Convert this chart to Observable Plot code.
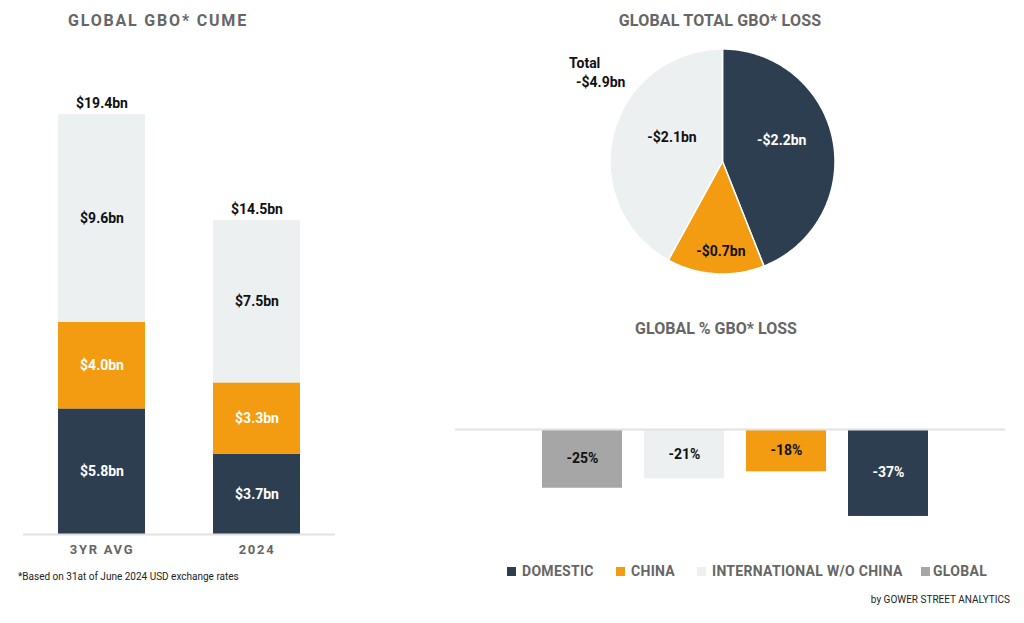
<!DOCTYPE html>
<html>
<head>
<meta charset="utf-8">
<script src="https://cdn.jsdelivr.net/npm/d3@7"></script>
<script src="https://cdn.jsdelivr.net/npm/@observablehq/plot@0.6"></script>
<style>
  html, body { margin: 0; padding: 0; background: #fff; }
  #root { position: relative; width: 1024px; height: 623px; overflow: hidden; font-family: Roboto, "Noto Sans", sans-serif; }
  .abs { position: absolute; }
  .title { font-weight: bold; color: #666; text-align: center; line-height: 20px; white-space: nowrap; }
  .cume g[aria-label="x-axis tick label"] text { letter-spacing: 1.7px; }
  .legend-item { position: absolute; top: 562px; display: flex; align-items: center; font-weight: bold; font-size: 14px; color: #666; letter-spacing: 0.3px; white-space: nowrap; line-height: 18px; }
  .legend-item span.sw { display: inline-block; width: 9px; height: 9px; margin-right: 6px; }
</style>
</head>
<body>
<div id="root"></div>
<script>
// ---------- DATA ----------
const periods = ["3YR AVG", "2024"];
const segments = ["DOMESTIC", "CHINA", "INTERNATIONAL W/O CHINA"];
const domesticCume = [5.8, 3.7];
const chinaCume = [4.0, 3.3];
const intlCume = [9.6, 7.5];
const totalCume = [19.4, 14.5];

const lossSegments = ["DOMESTIC", "CHINA", "INTERNATIONAL W/O CHINA"];
const lossValues = [-2.2, -0.7, -2.1];
const totalLoss = -4.9;

const pctCategories = ["GLOBAL", "INTERNATIONAL W/O CHINA", "CHINA", "DOMESTIC"];
const pctValues = [-25, -21, -18, -37];

const legendCategories = ["DOMESTIC", "CHINA", "INTERNATIONAL W/O CHINA", "GLOBAL"];
const legendColors = ["#2d3e50", "#f39c12", "#ecf0f1", "#a6a6a6"];

// ---------- HELPERS ----------
const root = document.getElementById("root");
const color = {domain: legendCategories, range: legendColors};
const FONT = "Roboto, 'Noto Sans', sans-serif";
function place(el, left, top, cls) {
  el.style.position = "absolute";
  el.style.left = left + "px";
  el.style.top = top + "px";
  if (cls) el.classList.add(cls);
  root.appendChild(el);
  return el;
}
function addText(txt, left, top, width, style, cls) {
  const d = document.createElement("div");
  d.className = "abs" + (cls ? " " + cls : "");
  d.textContent = txt;
  d.style.left = left + "px";
  d.style.top = top + "px";
  if (width != null) d.style.width = width + "px";
  Object.assign(d.style, style || {});
  root.appendChild(d);
  return d;
}
const fmtBn = v => "$" + v.toFixed(1) + "bn";
const fmtLoss = v => (v < 0 ? "-" : "") + "$" + Math.abs(v).toFixed(1) + "bn";
const fmtPct = v => v + "%";

// ---------- TITLES ----------
addText("GLOBAL GBO* CUME", 38, 11, 240, {fontSize: "16px", letterSpacing: "1.8px"}, "title");
addText("GLOBAL TOTAL GBO* LOSS", 580, 11, 280, {fontSize: "16px", letterSpacing: "0.2px"}, "title");
addText("GLOBAL % GBO* LOSS", 576, 319, 280, {fontSize: "16px", letterSpacing: "0px"}, "title");

// ---------- LEFT: STACKED BARS ----------
const cumeData = periods.flatMap((p, i) => [
  {period: p, seg: segments[0], v: domesticCume[i]},
  {period: p, seg: segments[1], v: chinaCume[i]},
  {period: p, seg: segments[2], v: intlCume[i]}
]);
const whiteCume = ["DOMESTIC", "CHINA"];
const cume = Plot.plot({
  width: 340, height: 510,
  marginLeft: 23, marginRight: 5, marginTop: 41, marginBottom: 36,
  style: {fontFamily: FONT, background: "transparent"},
  x: {domain: periods, range: [57, 300], paddingInner: 0.44, paddingOuter: 0, label: null},
  y: {domain: [0, 20], axis: null},
  color,
  marks: [
    Plot.barY(cumeData, {x: "period", y: "v", fill: "seg", order: segments}),
    Plot.ruleY([0], {stroke: "#e2e2e2", strokeWidth: 2}),
    Plot.text(cumeData, Plot.stackY({x: "period", y: "v", z: "seg", order: segments,
      text: d => whiteCume.includes(d.seg) ? fmtBn(d.v) : null, fill: "white", fontWeight: "bold", fontSize: 14})),
    Plot.text(cumeData, Plot.stackY({x: "period", y: "v", z: "seg", order: segments,
      text: d => whiteCume.includes(d.seg) ? null : fmtBn(d.v), fill: "#111", fontWeight: "bold", fontSize: 14})),
    Plot.text(periods, {x: d => d, y: (d, i) => totalCume[i], text: (d, i) => fmtBn(totalCume[i]),
      dy: -11, fill: "#111", fontWeight: "bold", fontSize: 14}),
    Plot.axisX({tickSize: 0, tickPadding: 10, fontSize: 13, fontWeight: "bold", fill: "#666", label: null})
  ]
});
place(cume, 0, 60, "cume");

addText("*Based on 31at of June 2024 USD exchange rates", 18, 570, null, {fontSize: "10px", color: "#222", whiteSpace: "nowrap", lineHeight: "14px"});

// ---------- PIE ----------
const pieArcs = d3.pie().sort(null).value(d => Math.abs(d))(lossValues);
const pt = (a, r) => [Math.sin(a) * r, -Math.cos(a) * r];
const pieFeatures = pieArcs.map((a, i) => {
  const coords = [[0, 0]];
  const n = Math.max(2, Math.ceil((a.endAngle - a.startAngle) / (Math.PI / 180)));
  for (let k = 0; k <= n; k++) coords.push(pt(a.startAngle + (a.endAngle - a.startAngle) * k / n, 1));
  coords.push([0, 0]);
  return {type: "Feature", properties: {cat: lossSegments[i]}, geometry: {type: "Polygon", coordinates: [coords]}};
});
const pieLabels = pieArcs.map((a, i) => {
  const mid = (a.startAngle + a.endAngle) / 2;
  const small = Math.abs(lossValues[i]) < 1;
  const [x, y] = pt(mid, small ? 0.8 : 0.5);
  return {x, y, cat: lossSegments[i], text: fmtLoss(lossValues[i]), small};
});
const pie = Plot.plot({
  width: 330, height: 260,
  marginLeft: 49.5, marginTop: 18.5, marginRight: 55.5, marginBottom: 16.5,
  style: {fontFamily: FONT, background: "transparent"},
  projection: {type: "identity", domain: {type: "MultiPoint", coordinates: [[-1, -1], [1, 1]]}, clip: false},
  color,
  marks: [
    Plot.geo(pieFeatures, {fill: d => d.properties.cat, stroke: "white", strokeWidth: 1.5}),
    Plot.text(pieLabels.filter(d => !d.small), {x: "x", y: "y", text: "text", dy: -10, dx: 4,
      fill: d => d.cat === "DOMESTIC" ? "white" : "#111", fontWeight: "bold", fontSize: 14}),
    Plot.text(pieLabels.filter(d => d.small), {x: "x", y: "y", text: "text", dx: 4,
      fill: "#111", fontWeight: "bold", fontSize: 14})
  ]
});
place(pie, 560, 30);

addText("Total", 569, 54, null, {fontSize: "14px", fontWeight: "bold", color: "#111", lineHeight: "18px"});
addText(fmtLoss(totalLoss), 576, 73, null, {fontSize: "14px", fontWeight: "bold", color: "#111", lineHeight: "18px"});

// ---------- PERCENT BARS ----------
const pctData = pctCategories.map((c, i) => ({cat: c, v: pctValues[i]}));
const pct = Plot.plot({
  width: 550, height: 150,
  marginLeft: 0, marginRight: 0, marginTop: 49, marginBottom: 7,
  style: {fontFamily: FONT, background: "transparent"},
  x: {domain: pctCategories, range: [87, 474], paddingInner: 0.215, paddingOuter: 0, axis: null},
  y: {domain: [-40, 0], axis: null},
  color,
  marks: [
    Plot.barY(pctData, {x: "cat", y: "v", fill: "cat"}),
    Plot.ruleY([0], {stroke: "#e2e2e2", strokeWidth: 2}),
    Plot.text(pctData, {x: "cat", y: d => d.v / 2, text: d => d.cat === "DOMESTIC" ? fmtPct(d.v) : null,
      fill: "white", fontWeight: "bold", fontSize: 14}),
    Plot.text(pctData, {x: "cat", y: d => d.v / 2, text: d => d.cat === "DOMESTIC" ? null : fmtPct(d.v),
      fill: "#111", fontWeight: "bold", fontSize: 14})
  ]
});
place(pct, 455, 380);

// ---------- LEGEND ----------
const legendX = [507, 616, 697, 921];
legendCategories.forEach((c, i) => {
  const d = document.createElement("div");
  d.className = "legend-item";
  d.style.left = legendX[i] + "px";
  const sw = document.createElement("span");
  sw.className = "sw";
  sw.style.background = legendColors[i];
  if (c === "GLOBAL") sw.style.marginRight = "3px";
  d.appendChild(sw);
  d.appendChild(document.createTextNode(c));
  root.appendChild(d);
});

addText("by GOWER STREET ANALYTICS", 760, 593, 250, {fontSize: "10px", color: "#222", textAlign: "right", lineHeight: "14px", whiteSpace: "nowrap"});
</script>
</body>
</html>
